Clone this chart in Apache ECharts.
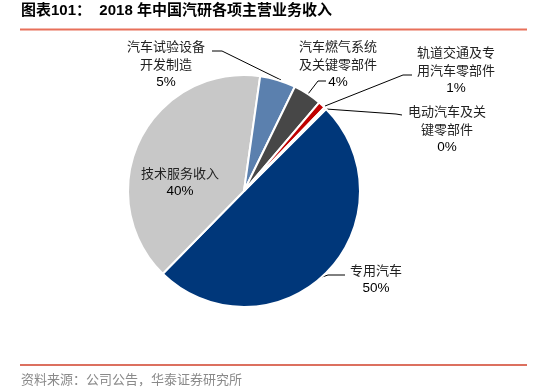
<!DOCTYPE html>
<html>
<head>
<meta charset="utf-8">
<script src="https://cdn.jsdelivr.net/npm/echarts@6/dist/echarts.min.js"></script>
<style>
html,body{margin:0;padding:0;background:#fff;}
#c{width:548px;height:391px;}
</style>
</head>
<body>
<div id="c"></div>
<script>
// ---- data ----
const categories = ['专用汽车', '技术服务收入', '汽车试验设备开发制造', '汽车燃气系统及关键零部件', '轨道交通及专用汽车零部件', '电动汽车及关键零部件'];
const labelLines = [['专用汽车'], ['技术服务收入'], ['汽车试验设备', '开发制造'], ['汽车燃气系统', '及关键零部件'], ['轨道交通及专', '用汽车零部件'], ['电动汽车及关', '键零部件']];
const values = [50, 40, 5, 4, 1, 0.3];
const colors = ['#00377A', '#C8C8C8', '#5B80AE', '#474747', '#C00000', '#C00000'];
const titleText = '图表101：  2018 年中国汽研各项主营业务收入';
const sourceText = '资料来源：公司公告，华泰证券研究所';

// ---- layout (positions of labels, not data) ----
const labelPos = [
  {x: 376, y: 261, line: [[322, 277], [328, 275], [345, 275]]},
  {x: 180, y: 164, line: null},
  {x: 166, y: 37, line: [[281, 80], [222, 51], [212, 51]]},
  {x: 338, y: 37, line: [[308, 94], [318, 81], [326, 81]]},
  {x: 456, y: 43, line: [[325, 106], [403, 75], [412, 75]]},
  {x: 447, y: 102, line: [[326, 109], [396, 114], [402, 115]]}
];

const total = values.reduce((a, b) => a + b, 0);
const data = categories.map((c, i) => ({
  name: c,
  value: values[i],
  itemStyle: {color: colors[i]},
  labelLine: {show: labelPos[i].line !== null},
  label: {
    formatter: labelLines[i].map(s => '{n|' + s + '}').join('\n') + '\n{p|' + Math.round(values[i] / total * 100) + '%}'
  }
}));

const chart = echarts.init(document.getElementById('c'), null, {renderer: 'canvas'});
chart.setOption({
  backgroundColor: '#fff',
  animation: false,
  graphic: [
    {type: 'text', left: 21, top: 3, style: {text: titleText, font: 'bold 15px "Liberation Sans", "Noto Sans CJK SC", sans-serif', fill: '#000'}},
    {type: 'line', shape: {x1: 20, y1: 29.5, x2: 527, y2: 29.5}, style: {stroke: '#E8705A', lineWidth: 2}},
    {type: 'line', shape: {x1: 20, y1: 365, x2: 527, y2: 365}, style: {stroke: '#D0402A', lineWidth: 1.5}},
    {type: 'text', left: 21, top: 373, style: {text: sourceText, font: '13px "Noto Sans CJK SC", sans-serif', fill: '#8A8A8A'}}
  ],
  series: [{
    type: 'pie',
    center: [244, 191],
    radius: 116,
    startAngle: 45,
    clockwise: true,
    avoidLabelOverlap: false,
    itemStyle: {borderColor: '#fff', borderWidth: 2},
    label: {
      show: true,
      position: 'outside',
      align: 'center',
      rich: {
        n: {fontFamily: '"Noto Sans CJK SC", sans-serif', fontSize: 13, color: '#222', lineHeight: 18, align: 'center'},
        p: {fontFamily: '"Liberation Sans", Arial, sans-serif', fontSize: 13.5, color: '#000', lineHeight: 18, align: 'center'}
      }
    },
    labelLine: {show: true, lineStyle: {color: '#000', width: 1}},
    labelLayout: function (params) {
      const p = labelPos[params.dataIndex];
      const r = {x: p.x, y: p.y, align: 'center', verticalAlign: 'top'};
      if (p.line) r.labelLinePoints = p.line;
      return r;
    },
    data: data
  }]
});
</script>
</body>
</html>
